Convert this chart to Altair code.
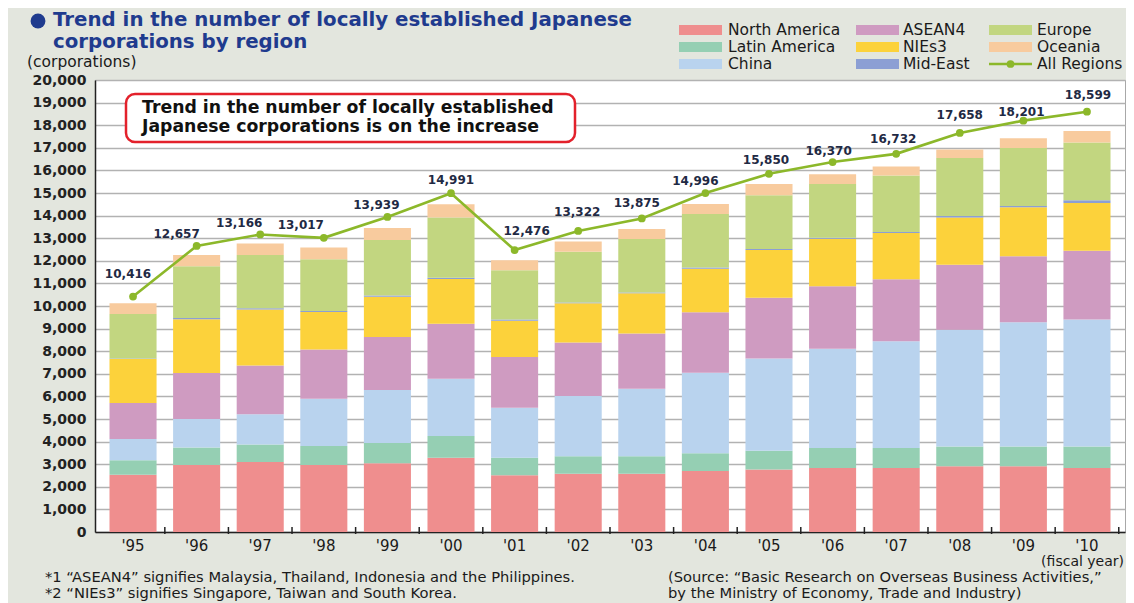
import altair as alt
import pandas as pd

# ---------------- data ----------------
years = ["'95", "'96", "'97", "'98", "'99", "'00", "'01", "'02",
         "'03", "'04", "'05", "'06", "'07", "'08", "'09", "'10"]
regions = ["North America", "Latin America", "China", "ASEAN4",
           "NIEs3", "Mid-East", "Europe", "Oceania"]
north_america = [2530, 2970, 3100, 2970, 3040, 3290, 2510, 2580, 2580, 2700, 2770, 2830, 2830, 2910, 2910, 2830]
latin_america = [650, 770, 770, 840, 900, 960, 780, 770, 770, 780, 830, 890, 890, 870, 870, 950]
china = [940, 1260, 1340, 2090, 2340, 2530, 2210, 2670, 2990, 3570, 4080, 4390, 4720, 5170, 5500, 5620]
asean4 = [1590, 2030, 2160, 2170, 2350, 2440, 2240, 2360, 2440, 2670, 2690, 2760, 2740, 2880, 2920, 3050]
nies3 = [1940, 2380, 2480, 1670, 1780, 1970, 1610, 1740, 1780, 1930, 2110, 2110, 2050, 2090, 2170, 2110]
mid_east = [30, 60, 50, 40, 60, 60, 50, 40, 40, 50, 40, 40, 40, 60, 50, 120]
europe = [1970, 2290, 2360, 2290, 2450, 2670, 2180, 2240, 2360, 2370, 2380, 2380, 2500, 2570, 2570, 2560]
oceania = [470, 500, 500, 520, 530, 580, 440, 450, 450, 440, 500, 430, 400, 380, 430, 500]
all_regions = [10416, 12657, 13166, 13017, 13939, 14991, 12476, 13322,
               13875, 14996, 15850, 16370, 16732, 17658, 18201, 18599]

# ---------------- styling ----------------
colors = ["#ef8e8e", "#95cfb3", "#b9d3ee", "#cf9bc1",
          "#fcd23b", "#8c9fd4", "#c2d680", "#f8cb9e"]
line_color = "#8cb82a"
bg = "#e3e6de"
FONT = "DejaVu Sans"

# label placement nudges (pixels) for the All Regions value labels
label_dx = [-5, -20, -21, -23, -11, 0, 12, -1, -5, -10, -3, -4, -3, 0, -2, 1]
label_dy = [-23, -12, -11, -13, -12, -13, -19, -19, -15, -12, -14, -11, -15, -18, -9, -17]

series = [north_america, latin_america, china, asean4, nies3, mid_east, europe, oceania]
rows = []
for k, (r, vals) in enumerate(zip(regions, series)):
    for yr, v in zip(years, vals):
        rows.append({"year": yr, "region": r, "value": v, "order": k})
df = pd.DataFrame(rows)
tot = pd.DataFrame({"year": years, "total": all_regions})
dummy = pd.DataFrame({"d": [0]})

W, H = 1030, 452
PI, PO = 0.26, 0.228
step = W / (len(years) - PI + 2 * PO)

xscale = alt.Scale(domain=years, paddingInner=PI, paddingOuter=PO)
yscale = alt.Scale(domain=[0, 20000], nice=False)

x_axis = alt.Axis(title=None, labelAngle=0, ticks=False, labelPadding=6,
                  labelFont=FONT, labelFontSize=15, labelColor="#1a1a1a",
                  domainColor="#222222", domainWidth=1.5, grid=False)
y_axis = alt.Axis(title=None, values=list(range(0, 20001, 1000)), format=",d",
                  labelFont=FONT, labelFontWeight="bold", labelFontSize=14,
                  labelColor="#222222", labelPadding=9, ticks=False,
                  gridColor="#b2b2b2", gridWidth=1.6,
                  domainColor="#222222", domainWidth=1.5)

X = alt.X("year:N", scale=xscale, sort=years, axis=x_axis)

bars = alt.Chart(df).mark_bar(size=step * (1 - PI)).encode(
    x=X,
    y=alt.Y("value:Q", stack="zero", scale=yscale, axis=y_axis),
    color=alt.Color("region:N", scale=alt.Scale(domain=regions, range=colors), legend=None),
    order=alt.Order("order:Q", sort="ascending"),
)

gap_ticks = alt.Chart(tot).mark_rule(color="#222222", strokeWidth=1.5, xOffset=step / 2).encode(
    x=X, y=alt.value(H - 5), y2=alt.value(H + 2)
)

line = alt.Chart(tot).mark_line(color=line_color, strokeWidth=2.6).encode(
    x=X, y=alt.Y("total:Q", scale=yscale, axis=y_axis)
)
points = alt.Chart(tot).mark_circle(color=line_color, size=60, opacity=1).encode(
    x=X, y=alt.Y("total:Q", scale=yscale, axis=y_axis)
)

value_labels = []
for i, yr in enumerate(years):
    value_labels.append(
        alt.Chart(tot).transform_filter(alt.datum.year == yr).mark_text(
            font=FONT, fontWeight="bold", fontSize=12, color="#1f2a44",
            dx=label_dx[i], dy=label_dy[i]
        ).encode(
            x=X, y=alt.Y("total:Q", scale=yscale, axis=y_axis),
            text=alt.Text("total:Q", format=",d")
        )
    )

# annotation box
ann_box = alt.Chart(dummy).mark_rect(
    fill="white", stroke="#e3212b", strokeWidth=2.5, cornerRadius=9
).encode(x=alt.value(31), x2=alt.value(480), y=alt.value(14), y2=alt.value(62))
ann_lines = ["Trend in the number of locally established",
             "Japanese corporations is on the increase"]
ann_text = [
    alt.Chart(dummy).mark_text(font=FONT, fontWeight="bold", fontSize=17.3, color="#111111",
                               align="left", baseline="middle").encode(
        x=alt.value(47), y=alt.value(yy), text=alt.value(t))
    for t, yy in zip(ann_lines, [28, 47])
]

# title, unit label
title_dot = alt.Chart(dummy).mark_circle(color="#1f3b8e", size=220, opacity=1).encode(
    x=alt.value(-57), y=alt.value(-59))
title_lines = ["Trend in the number of locally established Japanese",
               "corporations by region"]
title_text = [
    alt.Chart(dummy).mark_text(font=FONT, fontWeight="bold", fontSize=19.8, color="#1f3b8e",
                               align="left", baseline="middle").encode(
        x=alt.value(-42), y=alt.value(yy), text=alt.value(t))
    for t, yy in zip(title_lines, [-60, -38.5])
]
unit_text = alt.Chart(dummy).mark_text(font=FONT, fontSize=15.5, color="#1a1a1a",
                                       align="left", baseline="middle").encode(
    x=alt.value(-68), y=alt.value(-18), text=alt.value("(corporations)"))

fiscal = alt.Chart(dummy).mark_text(font=FONT, fontSize=14, color="#1a1a1a",
                                    align="right", baseline="middle").encode(
    x=alt.value(1029), y=alt.value(481.5), text=alt.value("(fiscal year)"))

notes = [
    ("*1  \u201cASEAN4\u201d signifies Malaysia, Thailand, Indonesia and the Philippines.", -50, 497.5),
    ("*2  \u201cNIEs3\u201d signifies Singapore, Taiwan and South Korea.", -50, 514),
    ("(Source: \u201cBasic Research on Overseas Business Activities,\u201d", 573, 497.5),
    ("by the Ministry of Economy, Trade and Industry)", 573, 514),
]
note_text = [
    alt.Chart(dummy).mark_text(font=FONT, fontSize=14.7, color="#1a1a1a",
                               align="left", baseline="middle").encode(
        x=alt.value(xx), y=alt.value(yy), text=alt.value(t))
    for t, xx, yy in notes
]

# custom legend
sw_x = [584, 761, 894]
tx_x = [633, 808, 942]
row_y = [-50, -33, -16]
legend_layers = []
for i, (r, c) in enumerate(zip(regions, colors)):
    col, row = i // 3, i % 3
    legend_layers.append(alt.Chart(dummy).mark_rect(color=c).encode(
        x=alt.value(sw_x[col]), x2=alt.value(sw_x[col] + 43),
        y=alt.value(row_y[row] - 5), y2=alt.value(row_y[row] + 5)))
    legend_layers.append(alt.Chart(dummy).mark_text(
        font=FONT, fontSize=15.5, color="#1a1a1a", align="left", baseline="middle").encode(
        x=alt.value(tx_x[col]), y=alt.value(row_y[row]), text=alt.value(r)))
legend_layers.append(alt.Chart(dummy).mark_rule(color=line_color, strokeWidth=2.6).encode(
    x=alt.value(sw_x[2]), x2=alt.value(sw_x[2] + 43), y=alt.value(row_y[2])))
legend_layers.append(alt.Chart(dummy).mark_circle(color=line_color, size=60, opacity=1).encode(
    x=alt.value(sw_x[2] + 21.5), y=alt.value(row_y[2])))
legend_layers.append(alt.Chart(dummy).mark_text(
    font=FONT, fontSize=15.5, color="#1a1a1a", align="left", baseline="middle").encode(
    x=alt.value(tx_x[2]), y=alt.value(row_y[2]), text=alt.value("All Regions")))

chart = alt.layer(
    bars, gap_ticks, line, points, *value_labels, ann_box, *ann_text,
    title_dot, *title_text, unit_text, fiscal, *note_text, *legend_layers
).properties(
    width=W, height=H,
    padding={"left": 87, "top": 72, "right": 1, "bottom": 71},
    autosize=alt.AutoSizeParams(type="none"),
    background=bg,
).configure_view(stroke="#a8a8a8", strokeWidth=1, fill="white")

chart.save("out.html", embed_options={"renderer": "svg", "actions": False})
